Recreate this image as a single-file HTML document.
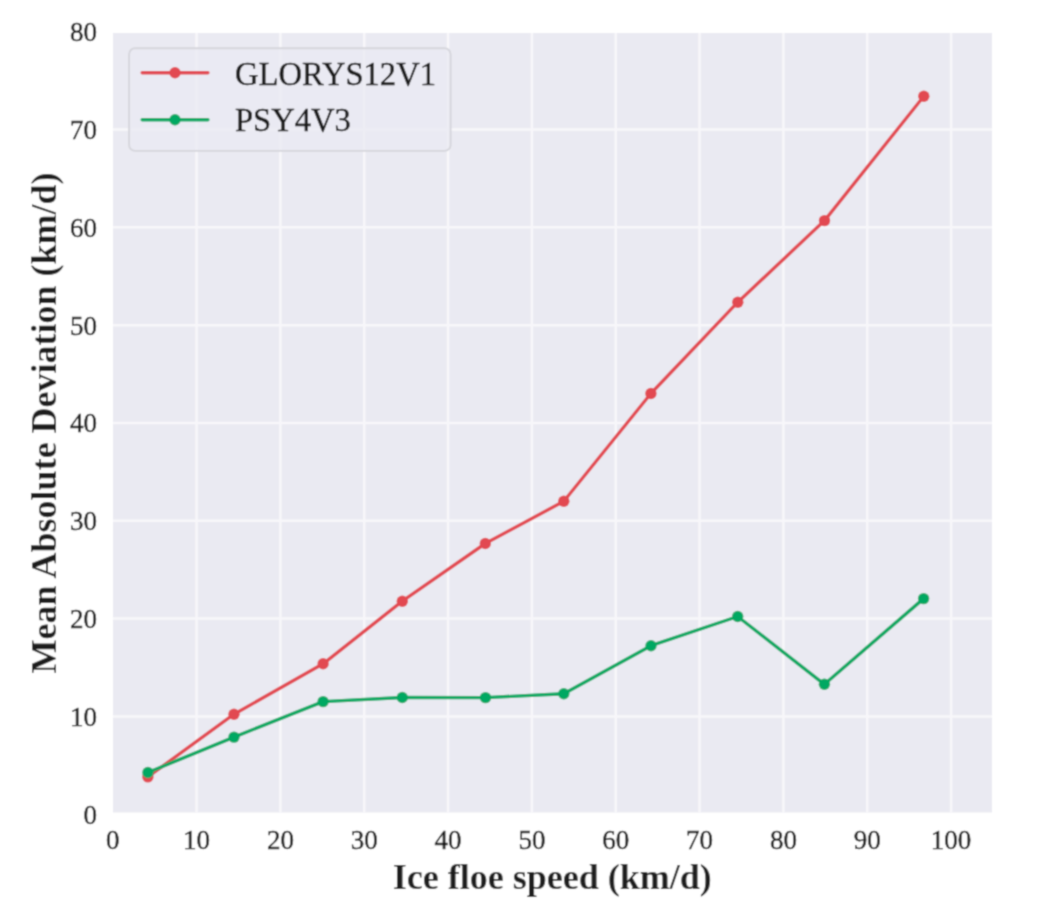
<!DOCTYPE html>
<html><head><meta charset="utf-8"><style>
html,body{margin:0;padding:0;background:#fff;width:1040px;height:910px;overflow:hidden}
svg{display:block}
.tk{font-family:"Liberation Serif",serif;font-size:27px;fill:#181818;stroke:#181818;stroke-width:0.45px}
.lg{font-family:"Liberation Serif",serif;font-size:32.6px;fill:#181818;stroke:#181818;stroke-width:0.45px}
.al{font-family:"Liberation Serif",serif;font-size:36px;font-weight:bold;fill:#1a1a1a}
</style></head><body>
<svg width="1040" height="910" viewBox="0 0 1040 910"><defs><filter id="bl" x="0" y="0" width="1040" height="910" filterUnits="userSpaceOnUse"><feConvolveMatrix order="5" kernelMatrix="0.00009 0.00198 0.00548 0.00198 0.00009 0.00198 0.04220 0.11707 0.04220 0.00198 0.00548 0.11707 0.32480 0.11707 0.00548 0.00198 0.04220 0.11707 0.04220 0.00198 0.00009 0.00198 0.00548 0.00198 0.00009" edgeMode="duplicate"/></filter></defs><g filter="url(#bl)"><rect width="1040" height="910" fill="#fff"/>
<rect x="113.0" y="33.0" width="879.0" height="779.5" fill="#eaeaf2"/>
<path d="M196.56 33.0V812.5 M280.39 33.0V812.5 M364.23 33.0V812.5 M448.06 33.0V812.5 M531.90 33.0V812.5 M615.74 33.0V812.5 M699.57 33.0V812.5 M783.41 33.0V812.5 M867.24 33.0V812.5 M951.08 33.0V812.5 M113.0 716.40H992.0 M113.0 618.58H992.0 M113.0 520.77H992.0 M113.0 422.95H992.0 M113.0 325.14H992.0 M113.0 227.33H992.0 M113.0 129.51H992.0" stroke="#f8f7fa" stroke-width="2.5" fill="none"/>
<path d="M147.9 776.9 L234.0 714.2 L323.1 663.8 L402.3 601.2 L485.3 543.5 L563.8 501.3 L650.9 393.5 L737.8 302.2 L824.5 220.6 L923.8 96.2" stroke="#e24a51" stroke-width="3.4" fill="none" stroke-linejoin="round" stroke-linecap="round"/><circle cx="147.9" cy="776.9" r="5.7" fill="#e24a51"/><circle cx="234.0" cy="714.2" r="5.7" fill="#e24a51"/><circle cx="323.1" cy="663.8" r="5.7" fill="#e24a51"/><circle cx="402.3" cy="601.2" r="5.7" fill="#e24a51"/><circle cx="485.3" cy="543.5" r="5.7" fill="#e24a51"/><circle cx="563.8" cy="501.3" r="5.7" fill="#e24a51"/><circle cx="650.9" cy="393.5" r="5.7" fill="#e24a51"/><circle cx="737.8" cy="302.2" r="5.7" fill="#e24a51"/><circle cx="824.5" cy="220.6" r="5.7" fill="#e24a51"/><circle cx="923.8" cy="96.2" r="5.7" fill="#e24a51"/>
<path d="M147.9 772.5 L234.0 737.1 L323.1 701.6 L402.3 697.5 L485.5 697.6 L563.8 693.8 L651.0 645.7 L737.7 616.5 L824.4 684.3 L923.6 598.6" stroke="#00a862" stroke-width="3.4" fill="none" stroke-linejoin="round" stroke-linecap="round"/><circle cx="147.9" cy="772.5" r="5.7" fill="#00a862"/><circle cx="234.0" cy="737.1" r="5.7" fill="#00a862"/><circle cx="323.1" cy="701.6" r="5.7" fill="#00a862"/><circle cx="402.3" cy="697.5" r="5.7" fill="#00a862"/><circle cx="485.5" cy="697.6" r="5.7" fill="#00a862"/><circle cx="563.8" cy="693.8" r="5.7" fill="#00a862"/><circle cx="651.0" cy="645.7" r="5.7" fill="#00a862"/><circle cx="737.7" cy="616.5" r="5.7" fill="#00a862"/><circle cx="824.4" cy="684.3" r="5.7" fill="#00a862"/><circle cx="923.6" cy="598.6" r="5.7" fill="#00a862"/>
<rect x="129.1" y="48.2" width="321.5" height="102.7" rx="6" fill="#eaeaf2" fill-opacity="0.8" stroke="#d6d6dc" stroke-width="1.9"/>
<path d="M142.2 72.8H207.9" stroke="#e24a51" stroke-width="3.4" stroke-linecap="round"/>
<circle cx="175" cy="72.8" r="5.7" fill="#e24a51"/>
<path d="M142.2 119.8H207.9" stroke="#00a862" stroke-width="3.4" stroke-linecap="round"/>
<circle cx="175" cy="119.8" r="5.7" fill="#00a862"/>
<text transform="translate(235 84.6) scale(1 1.05)" class="lg">GLORYS12V1</text>
<text transform="translate(235 130.6) scale(1 1.05)" class="lg">PSY4V3</text>
<text transform="translate(112.72 849) scale(1 1.05)" class="tk" text-anchor="middle">0</text>
<text transform="translate(196.56 849) scale(1 1.05)" class="tk" text-anchor="middle">10</text>
<text transform="translate(280.39 849) scale(1 1.05)" class="tk" text-anchor="middle">20</text>
<text transform="translate(364.23 849) scale(1 1.05)" class="tk" text-anchor="middle">30</text>
<text transform="translate(448.06 849) scale(1 1.05)" class="tk" text-anchor="middle">40</text>
<text transform="translate(531.90 849) scale(1 1.05)" class="tk" text-anchor="middle">50</text>
<text transform="translate(615.74 849) scale(1 1.05)" class="tk" text-anchor="middle">60</text>
<text transform="translate(699.57 849) scale(1 1.05)" class="tk" text-anchor="middle">70</text>
<text transform="translate(783.41 849) scale(1 1.05)" class="tk" text-anchor="middle">80</text>
<text transform="translate(867.24 849) scale(1 1.05)" class="tk" text-anchor="middle">90</text>
<text transform="translate(951.08 849) scale(1 1.05)" class="tk" text-anchor="middle">100</text>
<text transform="translate(97.0 823.61) scale(1 1.05)" class="tk" text-anchor="end">0</text>
<text transform="translate(97.0 725.80) scale(1 1.05)" class="tk" text-anchor="end">10</text>
<text transform="translate(97.0 627.98) scale(1 1.05)" class="tk" text-anchor="end">20</text>
<text transform="translate(97.0 530.17) scale(1 1.05)" class="tk" text-anchor="end">30</text>
<text transform="translate(97.0 432.35) scale(1 1.05)" class="tk" text-anchor="end">40</text>
<text transform="translate(97.0 334.54) scale(1 1.05)" class="tk" text-anchor="end">50</text>
<text transform="translate(97.0 236.73) scale(1 1.05)" class="tk" text-anchor="end">60</text>
<text transform="translate(97.0 138.91) scale(1 1.05)" class="tk" text-anchor="end">70</text>
<text transform="translate(97.0 41.10) scale(1 1.05)" class="tk" text-anchor="end">80</text>
<text x="552.3" y="889.2" class="al" text-anchor="middle">Ice floe speed (km/d)</text>
<text transform="translate(55.6 422.9) rotate(-90)" x="0" y="0" class="al" text-anchor="middle">Mean Absolute Deviation (km/d)</text>
</g></svg>
</body></html>
